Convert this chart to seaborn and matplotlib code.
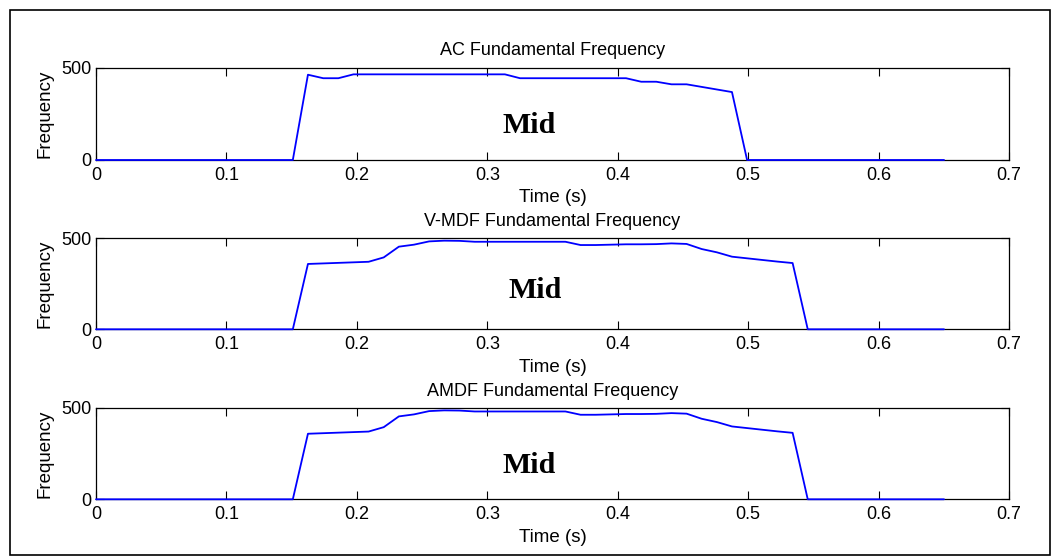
import matplotlib
matplotlib.use("Agg")
import matplotlib.pyplot as plt
from matplotlib.patches import Rectangle
import seaborn as sns

# ---- data ----
times = [0.0, 0.0116, 0.0232, 0.0348, 0.0464, 0.0580, 0.0697, 0.0813, 0.0929, 0.1045,
         0.1161, 0.1277, 0.1393, 0.1509, 0.1625, 0.1742, 0.1858, 0.1974, 0.2090, 0.2206,
         0.2322, 0.2438, 0.2554, 0.2670, 0.2786, 0.2903, 0.3019, 0.3135, 0.3251, 0.3367,
         0.3483, 0.3599, 0.3715, 0.3831, 0.3947, 0.4064, 0.4180, 0.4296, 0.4412, 0.4528,
         0.4644, 0.4760, 0.4876, 0.4992, 0.5108, 0.5225, 0.5341, 0.5457, 0.5573, 0.5689,
         0.5805, 0.5921, 0.6037, 0.6153, 0.6269, 0.6386, 0.6502]

ac_freq = [0, 0, 0, 0, 0, 0, 0, 0, 0, 0, 0, 0, 0, 0,
           462, 443, 443, 464,
           464, 464, 464, 464, 464, 464, 464, 464, 464, 464,
           443, 443, 443, 443, 443, 443, 443, 443,
           424, 424, 410, 410, 396, 382, 368,
           0, 0, 0, 0, 0, 0, 0, 0, 0, 0, 0, 0, 0, 0]

vmdf_freq = [0, 0, 0, 0, 0, 0, 0, 0, 0, 0, 0, 0, 0, 0,
             359, 362, 365, 368, 371, 395, 454, 465, 483, 487, 486, 481,
             481, 481, 481, 481, 481, 481,
             463, 463, 465, 467, 467, 468, 472, 469, 441, 423, 399, 390, 381, 372, 364,
             0, 0, 0, 0, 0, 0, 0, 0, 0, 0]

amdf_freq = [0, 0, 0, 0, 0, 0, 0, 0, 0, 0, 0, 0, 0, 0,
             359, 362, 365, 368, 371, 395, 454, 465, 483, 487, 486, 481,
             481, 481, 481, 481, 481, 481,
             463, 463, 465, 467, 467, 468, 472, 469, 441, 423, 399, 390, 381, 372, 364,
             0, 0, 0, 0, 0, 0, 0, 0, 0, 0]

titles = ["AC Fundamental Frequency", "V-MDF Fundamental Frequency", "AMDF Fundamental Frequency"]
series = [ac_freq, vmdf_freq, amdf_freq]
annotation = "Mid"
xtick_vals = [0, 0.1, 0.2, 0.3, 0.4, 0.5, 0.6, 0.7]
xtick_labels = ["0", "0.1", "0.2", "0.3", "0.4", "0.5", "0.6", "0.7"]
ytick_vals = [0, 500]
ytick_labels = ["0", "500"]

# ---- style ----
sns.set_style("ticks")
plt.rcParams["font.family"] = ["Liberation Sans", "DejaVu Sans"]
plt.rcParams["text.color"] = "black"
plt.rcParams["axes.labelcolor"] = "black"
plt.rcParams["axes.titlecolor"] = "black"
plt.rcParams["xtick.color"] = "black"
plt.rcParams["ytick.color"] = "black"

W, H = 1052, 557
fig = plt.figure(figsize=(W / 100, H / 100), dpi=100)
fig.patch.set_facecolor("white")

left_px, right_px = 96, 1009
axes_px = [(67.7, 160.0), (238.3, 329.3), (408.0, 499.3)]
mid_pos = [(0.312, 146), (0.316, 172), (0.312, 144)]

for i, (top, bot) in enumerate(axes_px):
    ax = fig.add_axes([left_px / W, 1 - bot / H, (right_px - left_px) / W, (bot - top) / H])
    sns.lineplot(x=times, y=series[i], ax=ax, color="#0000ff", linewidth=1.3,
                 zorder=3, clip_on=False)
    ax.set_xlim(0, 0.7)
    ax.set_ylim(0, 500)
    ax.set_xticks(xtick_vals)
    ax.set_xticklabels(xtick_labels)
    ax.set_yticks(ytick_vals)
    ax.set_yticklabels(ytick_labels)
    ax.tick_params(direction="in", top=True, right=True, length=6, width=0.8,
                   labelsize=13, colors="black")
    ax.tick_params(axis="x", pad=5)
    ax.tick_params(axis="y", pad=3)
    for s in ax.spines.values():
        s.set_linewidth(0.9)
        s.set_color("black")
    ax.set_title(titles[i], fontsize=13, pad=9, color="black")
    ax.set_xlabel("Time (s)", fontsize=13.5, labelpad=4, color="black")
    ax.set_ylabel("Frequency", fontsize=13.5, labelpad=6, color="black")
    ax.text(mid_pos[i][0], mid_pos[i][1], annotation, family=["Liberation Serif", "DejaVu Serif"],
            fontweight="bold", fontsize=21.5, ha="left", va="baseline", color="black")

# outer frame
fig.patches.append(Rectangle((10 / W, 1 - 555 / H), (1050 - 10) / W, (555 - 10) / H,
                             transform=fig.transFigure, fill=False,
                             edgecolor="black", linewidth=1.2))

fig.savefig("out.png", dpi=100, facecolor="white")
